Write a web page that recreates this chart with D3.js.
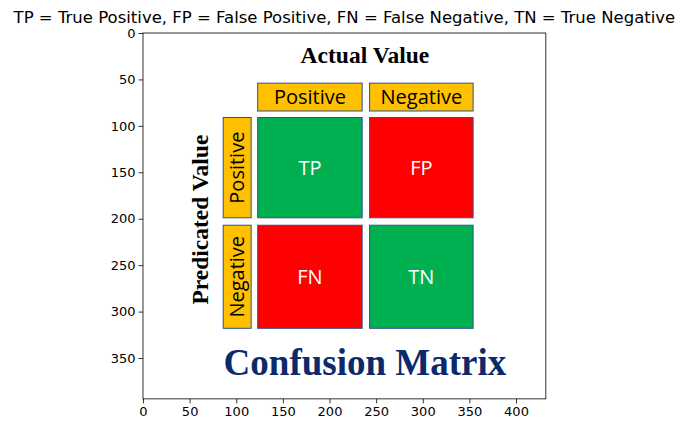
<!DOCTYPE html>
<html><head><meta charset="utf-8">
<script src="https://cdn.jsdelivr.net/npm/d3@7"></script>
<style>body{margin:0;background:#fff}</style></head>
<body><svg id="c" width="687" height="435"></svg>
<script>
const title = "TP = True Positive, FP = False Positive, FN = False Negative, TN = True Negative";
const xTicks = [0,50,100,150,200,250,300,350,400];
const yTicks = [0,50,100,150,200,250,300,350];
const imgW = 432, imgH = 394;
const colHeaders = ["Positive","Negative"];
const rowHeaders = ["Positive","Negative"];
const colX = [[123,235],[243,354]];
const rowY = [[91,199],[207,318]];
const headerY = [54,84];
const rowLabelX = [86,116];
const cells = [["TP","FP"],["FN","TN"]];
const cellColors = [["#00b050","#ff0000"],["#ff0000","#00b050"]];

const svg = d3.select("#c");
const L=143, T=33;
const x = d3.scaleLinear().domain([0,imgW]).range([L, L+imgW*0.9325]);
const y = d3.scaleLinear().domain([0,imgH]).range([T, T+imgH*0.9286]);
const g = svg.append("g");
g.append("rect").attr("x",x(0)).attr("y",y(0)).attr("width",x(imgW)-x(0)).attr("height",y(imgH)-y(0)).attr("fill","#fff");
const edge="#2f4f8f", yel="#ffc000";
colHeaders.forEach((h,i)=>{
  g.append("rect").attr("x",x(colX[i][0])).attr("y",y(headerY[0])).attr("width",x(colX[i][1])-x(colX[i][0])).attr("height",y(headerY[1])-y(headerY[0])).attr("fill",yel).attr("stroke",edge);
  g.append("text").attr("x",(x(colX[i][0])+x(colX[i][1]))/2).attr("y",(y(headerY[0])+y(headerY[1]))/2+7).attr("text-anchor","middle").attr("font-family","Open Sans, Liberation Sans").attr("font-size",20).text(h);
});
rowHeaders.forEach((h,i)=>{
  const cx=(x(rowLabelX[0])+x(rowLabelX[1]))/2, cy=(y(rowY[i][0])+y(rowY[i][1]))/2;
  g.append("rect").attr("x",x(rowLabelX[0])).attr("y",y(rowY[i][0])).attr("width",x(rowLabelX[1])-x(rowLabelX[0])).attr("height",y(rowY[i][1])-y(rowY[i][0])).attr("fill",yel).attr("stroke",edge);
  g.append("text").attr("transform",`translate(${cx+7},${cy}) rotate(-90)`).attr("text-anchor","middle").attr("font-family","Open Sans, Liberation Sans").attr("font-size",20).text(h);
});
cells.forEach((row,r)=>row.forEach((c,k)=>{
  g.append("rect").attr("x",x(colX[k][0])).attr("y",y(rowY[r][0])).attr("width",x(colX[k][1])-x(colX[k][0])).attr("height",y(rowY[r][1])-y(rowY[r][0])).attr("fill",cellColors[r][k]).attr("stroke",edge);
  g.append("text").attr("x",(x(colX[k][0])+x(colX[k][1]))/2).attr("y",(y(rowY[r][0])+y(rowY[r][1]))/2+7).attr("text-anchor","middle").attr("fill","#fff").attr("font-family","Open Sans, Liberation Sans").attr("font-size",20).text(c);
}));
g.append("text").attr("x",x(238)).attr("y",y(32)).attr("text-anchor","middle").attr("font-family","Liberation Serif").attr("font-weight","bold").attr("font-size",23.5).text("Actual Value");
g.append("text").attr("transform",`translate(${x(61)+8},${y(201)}) rotate(-90)`).attr("text-anchor","middle").attr("font-family","Liberation Serif").attr("font-weight","bold").attr("font-size",23.5).text("Predicated Value");
g.append("text").attr("x",x(238)).attr("y",y(368)).attr("text-anchor","middle").attr("font-family","Liberation Serif").attr("font-weight","bold").attr("font-size",37).attr("fill","#0b2a6b").text("Confusion Matrix");
// axes
svg.append("rect").attr("x",x(0)).attr("y",y(0)).attr("width",x(imgW)-x(0)).attr("height",y(imgH)-y(0)).attr("fill","none").attr("stroke","#000").attr("stroke-width",0.8);
const xa = svg.append("g").attr("transform",`translate(0,${y(imgH)})`).call(d3.axisBottom(x).tickValues(xTicks).tickSize(4.5).tickPadding(3));
const ya = svg.append("g").attr("transform",`translate(${x(0)},0)`).call(d3.axisLeft(y).tickValues(yTicks).tickSize(4.5).tickPadding(3));
[xa,ya].forEach(a=>{a.select(".domain").remove();a.selectAll("text").attr("font-family","DejaVu Sans").attr("font-size",13).attr("fill","#000");a.selectAll("line").attr("stroke-width",0.8);});
svg.append("text").attr("x",x(imgW/2)).attr("y",23).attr("text-anchor","middle").attr("font-family","DejaVu Sans").attr("font-size",16.5).text(title);
</script></body></html>
